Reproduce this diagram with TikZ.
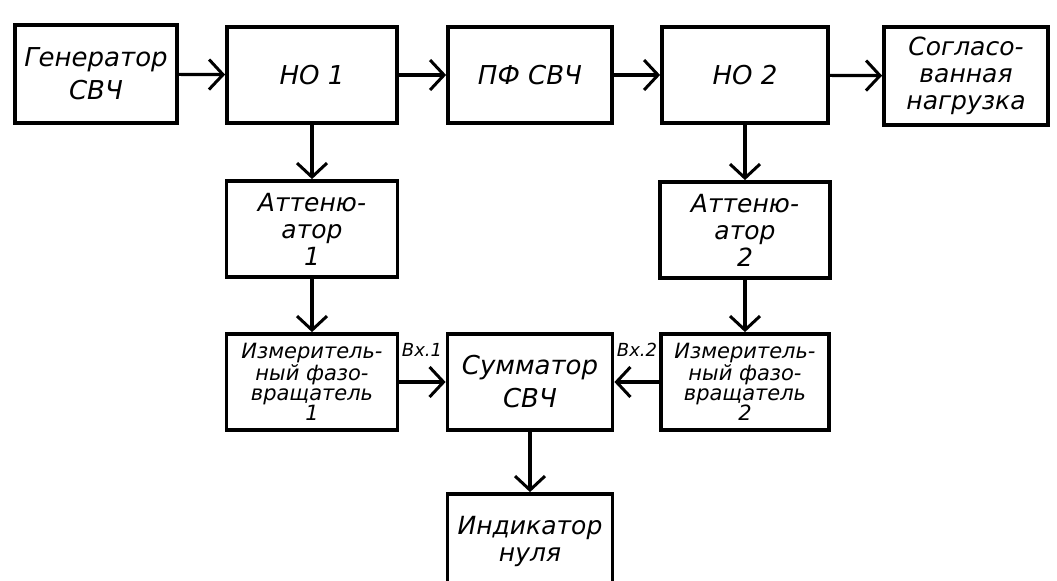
\documentclass[tikz,border=0pt]{standalone}
\usepackage{fontspec}
\setmainfont{DejaVu Sans}
\usepackage{tikz}
\usetikzlibrary{arrows.meta,positioning}

\begin{document}
\begin{tikzpicture}[
    x=0.5pt,
    y=-0.5pt,
    >={Straight Barb[length=7pt, width=15pt, line width=1.5pt]},
    blk/.style={draw, line width=1.9pt, inner sep=1pt, align=center, minimum width=83pt, minimum height=48pt},
    big/.style={font=\itshape\fontsize{13}{16.5}\selectfont},
    mid/.style={font=\itshape\fontsize{12.5}{13.5}\selectfont},
    small/.style={font=\itshape\fontsize{10.5}{10}\selectfont},
    note/.style={font=\itshape\fontsize{9}{10}\selectfont, inner sep=1pt},
    link/.style={->, line width=1.6pt}
  ]
  \useasboundingbox (0,0) rectangle (1057,580);
  \clip (0,0) rectangle (1057,580);
  %
  \node[blk, big, minimum width=81pt, minimum height=49pt] (gen) at (96,74) {Генератор\\СВЧ};
  \node[blk, big, minimum width=85pt] (ho1) at (312,75) {НО 1};
  \node[blk, big, minimum width=82pt] (pf) at (530,75) {ПФ СВЧ};
  \node[blk, big] (ho2) at (745,75) {НО 2};
  \node[blk, mid, minimum width=82pt, minimum height=49pt] (load) at (966,76) {Согласо-\\ванная\\нагрузка};

  %
  \node[blk, mid, minimum width=85.5pt] (att1) at (312,229) {Аттеню-\\атор\\1};
  \node[blk, mid, minimum width=85pt] (att2) at (745,230) {Аттеню-\\атор\\2};

  %
  \node[blk, small, minimum width=85.5pt] (ph1) at (312,382) {Измеритель-\\ный фазо-\\вращатель\\1};
  \node[blk, big, minimum width=82.5pt] (summ) at (530,382) {Сумматор\\СВЧ};
  \node[blk, small, minimum width=84pt] (ph2) at (745,382) {Измеритель-\\ный фазо-\\вращатель\\2};
  \node[note] (in1) at (422,350) {Вх.1};
  \node[note] (in2) at (637,350) {Вх.2};

  %
  \node[blk, mid, minimum width=82.5pt, minimum height=47pt] (ind) at (530,541) {Индикатор\\нуля};

  %
  \draw[link] (gen) -- (ho1);
  \draw[link] (ho1) -- (pf);
  \draw[link] (pf) -- (ho2);
  \draw[link] (ho2) -- (load);
  \draw[link] (ho1) -- (att1);
  \draw[link] (att1) -- (ph1);
  \draw[link] (ho2) -- (att2);
  \draw[link] (att2) -- (ph2);
  \draw[link] (ph1) -- (summ);
  \draw[link] (ph2) -- (summ);
  \draw[link] (summ) -- (ind);
\end{tikzpicture}
\end{document}
